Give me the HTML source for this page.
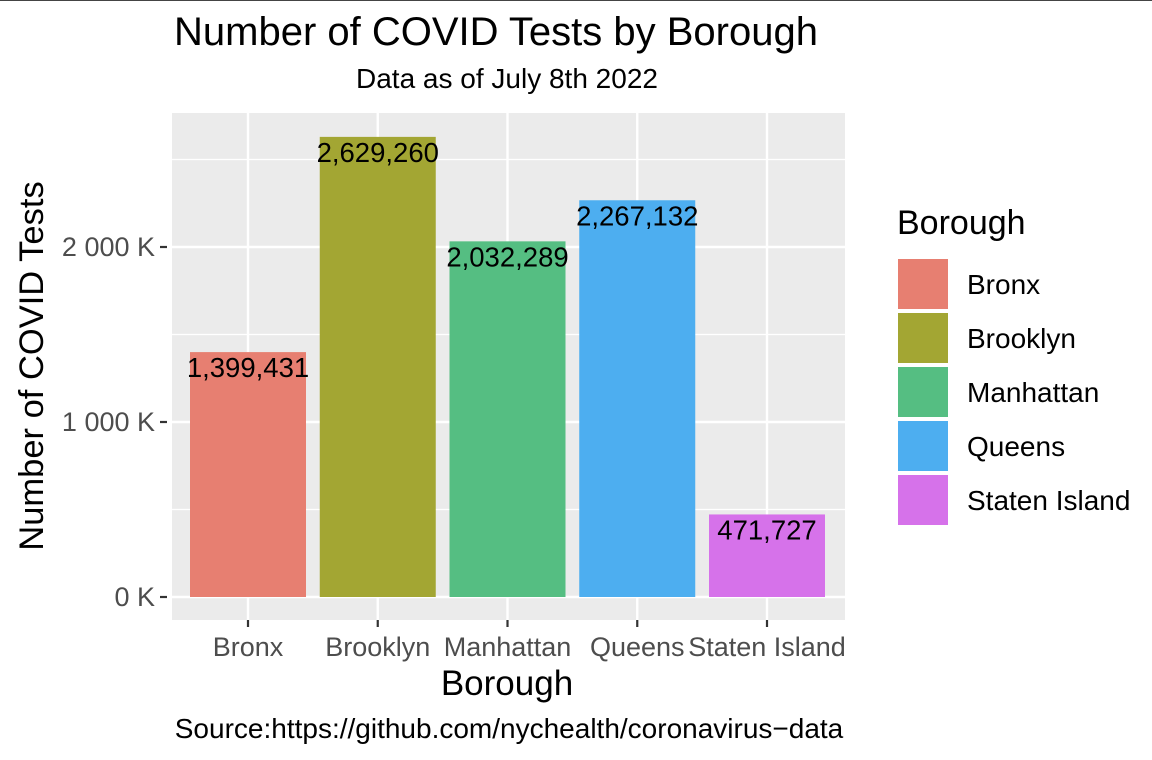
<!DOCTYPE html>
<html><head><meta charset="utf-8"><style>
body{margin:0;background:#fff;}
svg{display:block;font-family:"Liberation Sans",Arial,sans-serif;}
</style></head><body>
<svg id="chart" width="1152" height="760">
<line x1="0" y1="0.5" x2="1152" y2="0.5" stroke="#444"/>
<text x="496" y="45" font-size="40" text-anchor="middle" fill="#000">Number of COVID Tests by Borough</text>
<text x="507" y="88" font-size="28" text-anchor="middle" fill="#000">Data as of July 8th 2022</text>
<rect x="172" y="113" width="673" height="507" fill="#ebebeb"/>
<g id="grid"></g><g id="bars"></g><g id="axes"></g><g id="legend"></g>
<text x="507" y="695" font-size="35" text-anchor="middle" fill="#000">Borough</text>
<text transform="translate(43,366) rotate(-90)" font-size="34.5" text-anchor="middle" fill="#000">Number of COVID Tests</text>
<text x="509" y="738" font-size="28" text-anchor="middle" fill="#000">Source:https://github.com/nychealth/coronavirus−data</text>
</svg>
<script>
const categories=["Bronx","Brooklyn","Manhattan","Queens","Staten Island"];
const values=[1399431,2629260,2032289,2267132,471727];
const labels=["1,399,431","2,629,260","2,032,289","2,267,132","471,727"];
const colors=["#E77F71","#A3A633","#55BE82","#4DAEF0","#D672EA"];
const yTicks=[0,1000000,2000000];
const yTickLabels=["0 K","1 000 K","2 000 K"];
const yMinor=[500000,1500000,2500000];
const NS="http://www.w3.org/2000/svg";
const y=v=>597-v*0.000175;
const x=i=>248+i*129.75;
const bw=116;
function mk(t,a,p,txt){const e=document.createElementNS(NS,t);for(const k in a)e.setAttribute(k,a[k]);if(txt!=null)e.textContent=txt;p.appendChild(e);return e;}
const G=document.getElementById('grid'),B=document.getElementById('bars'),A=document.getElementById('axes'),L=document.getElementById('legend');
yMinor.forEach(v=>{const e=mk('line',{x1:172,x2:845,y1:y(v),y2:y(v),stroke:'#fff','stroke-width':1.2},G);

});
yTicks.forEach((v,i)=>{const e=mk('line',{x1:172,x2:845,y1:y(v),y2:y(v),stroke:'#fff','stroke-width':2.4},G);


const t=mk('line',{x1:160,x2:167,y1:y(v),y2:y(v),stroke:'#333','stroke-width':2.2},A);


const l=mk('text',{x:155,y:y(v)+9,'font-size':27,'text-anchor':'end',fill:'#4d4d4d'},A,yTickLabels[i]);

});
categories.forEach((c,i)=>{const g=mk('line',{x1:x(i),x2:x(i),y1:113,y2:620,stroke:'#fff','stroke-width':2.4},G);


const r=mk('rect',{x:x(i)-bw/2,y:y(values[i]),width:bw,height:y(0)-y(values[i]),fill:colors[i]},B);


const vl=mk('text',{x:x(i),y:y(values[i])+25,'font-size':27.5,'text-anchor':'middle',fill:'#000'},B,labels[i]);


const t=mk('line',{x1:x(i),x2:x(i),y1:620,y2:627,stroke:'#333','stroke-width':2.2},A);


const xl=mk('text',{x:x(i),y:656,'font-size':27,'text-anchor':'middle',fill:'#4d4d4d'},A,c);


const k=mk('rect',{x:897,y:258+i*54,width:52,height:52,fill:colors[i],stroke:'#fff','stroke-width':2},L);


const lt=mk('text',{x:967,y:294+i*54,'font-size':28,fill:'#000'},L,c);

});
const lt=mk('text',{x:897,y:234,'font-size':34,fill:'#000'},L,'Borough');


</script>
</body></html>
